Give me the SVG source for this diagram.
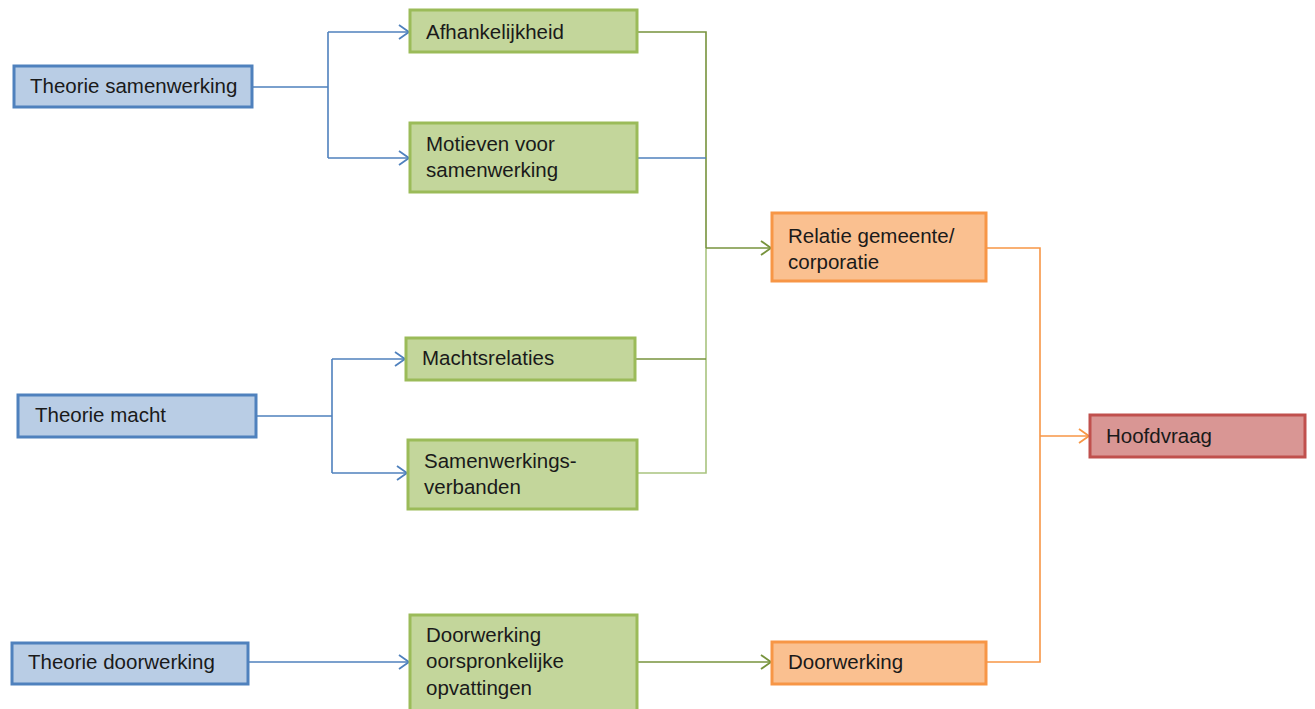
<svg xmlns="http://www.w3.org/2000/svg" width="1315" height="709" viewBox="0 0 1315 709">
<defs>
<style>
.t{font-family:"Liberation Sans",Arial,sans-serif;font-size:20.5px;fill:#1a1a1a}
.blue rect{fill:#b9cde5;stroke:#4f81bd;stroke-width:3}
.green rect{fill:#c3d69b;stroke:#9bbb59;stroke-width:3}
.orange rect{fill:#fac090;stroke:#f79646;stroke-width:3}
.red rect{fill:#d99694;stroke:#c0504d;stroke-width:3}
.c{fill:none;stroke-width:1.6}
.cb{stroke:#4f81bd}
.cg{stroke:#77933c}
.cl{stroke:#a9c47f}
.co{stroke:#f79646}
</style>
<marker id="ab" markerUnits="userSpaceOnUse" markerWidth="14" markerHeight="18" refX="11" refY="8" orient="auto"><path d="M1,1 L11,8 L1,15" fill="none" stroke="#4f81bd" stroke-width="1.8"/></marker>
<marker id="ag" markerUnits="userSpaceOnUse" markerWidth="14" markerHeight="18" refX="11" refY="8" orient="auto"><path d="M1,1 L11,8 L1,15" fill="none" stroke="#77933c" stroke-width="1.8"/></marker>
<marker id="ao" markerUnits="userSpaceOnUse" markerWidth="14" markerHeight="18" refX="11" refY="8" orient="auto"><path d="M1,1 L11,8 L1,15" fill="none" stroke="#f79646" stroke-width="1.8"/></marker>
</defs>
<rect width="1315" height="709" fill="#ffffff"/>
<g id="connectors">
<path class="c cb" d="M252,87 H328 M328,32 V158"/>
<path class="c cb" d="M328,32 H409" marker-end="url(#ab)"/>
<path class="c cb" d="M328,158 H409" marker-end="url(#ab)"/>
<path class="c cb" d="M256,416 H332 M332,359 V473"/>
<path class="c cb" d="M332,359 H405" marker-end="url(#ab)"/>
<path class="c cb" d="M332,473 H407" marker-end="url(#ab)"/>
<path class="c cb" d="M248,662 H409" marker-end="url(#ab)"/>
<path class="c cg" d="M637,32 H706 V248"/>
<path class="c cb" d="M637,158 H706"/>
<path class="c cl" d="M706,248 V473 H637"/>
<path class="c cg" d="M635,359 H706"/>
<path class="c cg" d="M706,248 H771" marker-end="url(#ag)"/>
<path class="c cg" d="M637,662 H771" marker-end="url(#ag)"/>
<path class="c co" d="M986,248 H1040 V662 H986"/>
<path class="c co" d="M1040,436 H1089" marker-end="url(#ao)"/>
</g>
<g id="theorie-samenwerking" class="blue"><rect x="14" y="66" width="238" height="41"/><text class="t" x="30" y="93">Theorie samenwerking</text></g>
<g id="theorie-macht" class="blue"><rect x="18" y="395" width="238" height="42"/><text class="t" x="35" y="422">Theorie macht</text></g>
<g id="theorie-doorwerking" class="blue"><rect x="12" y="643" width="236" height="41"/><text class="t" x="28" y="669">Theorie doorwerking</text></g>
<g id="afhankelijkheid" class="green"><rect x="410" y="10" width="227" height="42"/><text class="t" x="426" y="39">Afhankelijkheid</text></g>
<g id="motieven" class="green"><rect x="410" y="123" width="227" height="69"/><text class="t" x="426" y="151">Motieven voor</text><text class="t" x="426" y="177">samenwerking</text></g>
<g id="machtsrelaties" class="green"><rect x="406" y="338" width="229" height="42"/><text class="t" x="422" y="365">Machtsrelaties</text></g>
<g id="samenwerkingsverbanden" class="green"><rect x="408" y="440" width="229" height="69"/><text class="t" x="424" y="468">Samenwerkings-</text><text class="t" x="424" y="494">verbanden</text></g>
<g id="doorwerking-opvattingen" class="green"><rect x="410" y="615" width="227" height="100"/><text class="t" x="426" y="642">Doorwerking</text><text class="t" x="426" y="668">oorspronkelijke</text><text class="t" x="426" y="695">opvattingen</text></g>
<g id="relatie" class="orange"><rect x="772" y="213" width="214" height="68"/><text class="t" x="788" y="243">Relatie gemeente/</text><text class="t" x="788" y="269">corporatie</text></g>
<g id="doorwerking" class="orange"><rect x="772" y="642" width="214" height="42"/><text class="t" x="788" y="669">Doorwerking</text></g>
<g id="hoofdvraag" class="red"><rect x="1090" y="415" width="215" height="42"/><text class="t" x="1106" y="443">Hoofdvraag</text></g>
</svg>
